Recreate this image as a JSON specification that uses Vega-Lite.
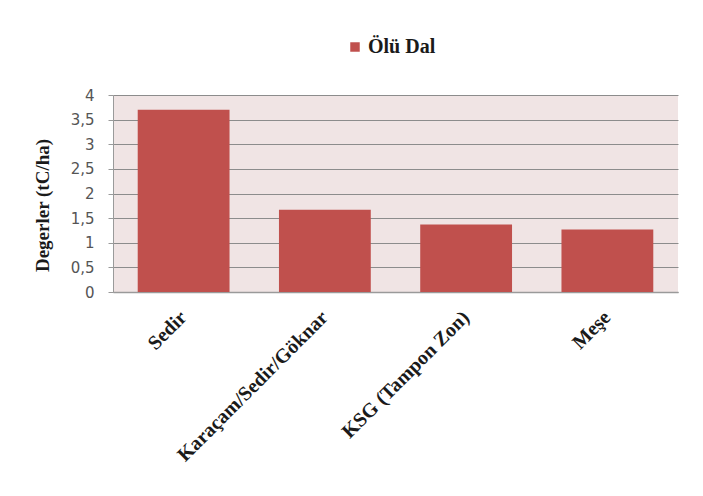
{
  "$schema": "https://vega.github.io/schema/vega-lite/v6.json",
  "autosize": {"type": "none"},
  "width": 565,
  "height": 197,
  "padding": {"left": 113, "top": 95, "right": 25, "bottom": 204},
  "background": "white",
  "data": {
    "values": [
      {"tur": "Sedir", "deger": 3.70, "seri": "Ölü Dal"},
      {"tur": "Karaçam/Sedir/Göknar", "deger": 1.67, "seri": "Ölü Dal"},
      {"tur": "KSG (Tampon Zon)", "deger": 1.37, "seri": "Ölü Dal"},
      {"tur": "Meşe", "deger": 1.27, "seri": "Ölü Dal"}
    ]
  },
  "mark": {"type": "bar"},
  "encoding": {
    "x": {
      "field": "tur",
      "type": "nominal",
      "sort": null,
      "scale": {"paddingInner": 0.35, "paddingOuter": 0.175},
      "axis": {
        "title": null,
        "labelAngle": -45,
        "labelAlign": "right",
        "labelBaseline": "middle",
        "labelPadding": 22,
        "labelFont": "Liberation Serif",
        "labelFontWeight": "bold",
        "labelFontSize": 20,
        "labelColor": "#1a1a1a",
        "labelLimit": 400,
        "ticks": false,
        "domainColor": "#9a9a9a",
        "domainWidth": 1.5,
        "grid": false
      }
    },
    "y": {
      "field": "deger",
      "type": "quantitative",
      "scale": {"domain": [0, 4], "nice": false},
      "axis": {
        "title": "Degerler (tC/ha)",
        "titleFont": "Liberation Serif",
        "titleFontWeight": "bold",
        "titleFontSize": 19,
        "titleColor": "#1a1a1a",
        "titlePadding": 18,
        "titleY": 110,
        "values": [0, 0.5, 1, 1.5, 2, 2.5, 3, 3.5, 4],
        "labelExpr": "replace(format(datum.value, '~g'), '.', ',')",
        "labelFont": "DejaVu Sans",
        "labelFontSize": 15,
        "labelColor": "#555555",
        "labelPadding": 14,
        "tickSize": 5,
        "tickColor": "#9a9a9a",
        "domainColor": "#9a9a9a",
        "gridColor": "#8c8c8c",
        "gridWidth": 1,
        "grid": true
      }
    },
    "color": {
      "field": "seri",
      "type": "nominal",
      "scale": {"range": ["#c0504d"]},
      "legend": {
        "title": null,
        "orient": "none",
        "legendX": 232,
        "legendY": -58,
        "symbolType": "square",
        "symbolSize": 90,
        "symbolStrokeWidth": 0,
        "labelFont": "Liberation Serif",
        "labelFontWeight": "bold",
        "labelFontSize": 20,
        "labelColor": "#1a1a1a",
        "labelOffset": 3
      }
    }
  },
  "config": {
    "view": {"fill": "#f0e4e4", "stroke": null}
  }
}
